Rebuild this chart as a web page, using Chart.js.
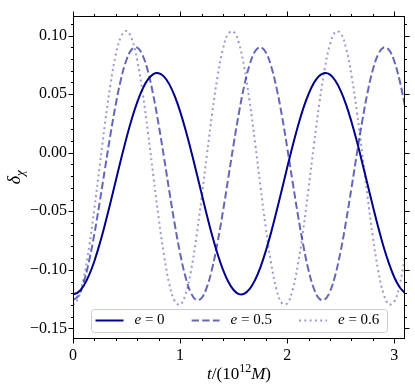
<!DOCTYPE html>
<html>
<head>
<meta charset="utf-8">
<script src="https://cdn.jsdelivr.net/npm/chart.js@4.4.1/dist/chart.umd.min.js"></script>
<style>
html, body { margin: 0; padding: 0; background: #fff; }
</style>
</head>
<body>
<canvas id="chart" width="415" height="390"></canvas>
<script>
// time samples t/(10^12 M)
const t = [0, 0.05, 0.1, 0.15, 0.2, 0.25, 0.3, 0.35, 0.4, 0.45,
  0.5, 0.55, 0.6, 0.65, 0.7, 0.75, 0.8, 0.85, 0.9, 0.95,
  1, 1.05, 1.1, 1.15, 1.2, 1.25, 1.3, 1.35, 1.4, 1.45,
  1.5, 1.55, 1.6, 1.65, 1.7, 1.75, 1.8, 1.85, 1.9, 1.95,
  2, 2.05, 2.1, 2.15, 2.2, 2.25, 2.3, 2.35, 2.4, 2.45,
  2.5, 2.55, 2.6, 2.65, 2.7, 2.75, 2.8, 2.85, 2.9, 2.95,
  3, 3.05, 3.1];

// delta chi, e = 0
const e0 = [-0.1210, -0.1190, -0.1135, -0.1045, -0.0924, -0.0775, -0.0607, -0.0426, -0.0238, -0.0050,
  0.0128, 0.0292, 0.0431, 0.0545, 0.0625, 0.0671, 0.0678, 0.0649, 0.0583, 0.0482,
  0.0353, 0.0198, 0.0025, -0.0159, -0.0347, -0.0533, -0.0708, -0.0865, -0.0998, -0.1102,
  -0.1172, -0.1207, -0.1203, -0.1163, -0.1086, -0.0978, -0.0840, -0.0680, -0.0502, -0.0316,
  -0.0127, 0.0055, 0.0225, 0.0378, 0.0501, 0.0596, 0.0656, 0.0680, 0.0666, 0.0614,
  0.0528, 0.0410, 0.0264, 0.0099, -0.0083, -0.0269, -0.0456, -0.0636, -0.0802, -0.0944,
  -0.1063, -0.1148, -0.1197];

// e = 0.5
const e05 = [-0.1260, -0.1221, -0.1107, -0.0925, -0.0690, -0.0418, -0.0129, 0.0157, 0.0416, 0.0635,
  0.0793, 0.0883, 0.0896, 0.0831, 0.0693, 0.0489, 0.0238, -0.0042, -0.0333, -0.0611,
  -0.0858, -0.1059, -0.1194, -0.1256, -0.1241, -0.1148, -0.0986, -0.0765, -0.0502, -0.0216,
  0.0073, 0.0343, 0.0576, 0.0753, 0.0865, 0.0900, 0.0857, 0.0738, 0.0555, 0.0319,
  0.0044, -0.0246, -0.0530, -0.0789, -0.1006, -0.1161, -0.1246, -0.1254, -0.1184, -0.1041,
  -0.0837, -0.0584, -0.0303, -0.0013, 0.0265, 0.0512, 0.0708, 0.0840, 0.0898, 0.0878,
  0.0780, 0.0616, 0.0394];

// e = 0.6
const e06 = [-0.1300, -0.1241, -0.1071, -0.0807, -0.0474, -0.0108, 0.0257, 0.0583, 0.0837, 0.0994,
  0.1039, 0.0968, 0.0787, 0.0511, 0.0172, -0.0197, -0.0558, -0.0876, -0.1122, -0.1266,
  -0.1297, -0.1210, -0.1016, -0.0733, -0.0389, -0.0019, 0.0339, 0.0651, 0.0884, 0.1016,
  0.1032, 0.0932, 0.0724, 0.0433, 0.0086, -0.0286, -0.0639, -0.0944, -0.1166, -0.1284,
  -0.1286, -0.1173, -0.0955, -0.0655, -0.0301, 0.0070, 0.0420, 0.0715, 0.0926, 0.1031,
  0.1019, 0.0892, 0.0663, 0.0355, -0.0003, -0.0374, -0.0719, -0.1007, -0.1204, -0.1295,
  -0.1270, -0.1130, -0.0889];

const eValues = ['0', '0.5', '0.6'];
const xTicks = [0, 1, 2, 3];
const yTicks = [-0.15, -0.10, -0.05, 0, 0.05, 0.10];

const serif = '"Liberation Serif", "DejaVu Serif", serif';

function pts(ys) {
  return t.map((x, i) => ({ x: x, y: ys[i] }));
}

// spines, outward ticks on all four sides, axis titles, legend box
const frame = {
  id: 'frame',
  afterDraw(chart) {
    const ctx = chart.ctx;
    const a = chart.chartArea;
    const xs = chart.scales.x, ys = chart.scales.y;
    const L = Math.round(a.left) + 0.5, R = Math.round(a.right) - 0.5;
    const T = Math.round(a.top) + 0.5, B = Math.round(a.bottom) - 0.5;
    ctx.save();
    ctx.strokeStyle = '#000';
    ctx.lineWidth = 1;
    ctx.strokeRect(L, T, R - L, B - T);

    function xTick(v, len) {
      const px = Math.round(xs.getPixelForValue(v)) + 0.5;
      ctx.beginPath();
      ctx.moveTo(px, B); ctx.lineTo(px, B + len);
      ctx.moveTo(px, T); ctx.lineTo(px, T - len);
      ctx.stroke();
    }
    function yTick(v, len) {
      const py = Math.round(ys.getPixelForValue(v)) + 0.5;
      ctx.beginPath();
      ctx.moveTo(L, py); ctx.lineTo(L - len, py);
      ctx.moveTo(R, py); ctx.lineTo(R + len, py);
      ctx.stroke();
    }
    xTicks.forEach(v => xTick(v, 5));
    for (let i = 1; i * 0.2 <= xs.max + 1e-9; i++) {
      if (i % 5 !== 0) xTick(i * 0.2, 2.5);
    }
    yTicks.forEach(v => yTick(v, 5));
    for (let i = -15; i <= 11; i++) {
      if (i % 5 !== 0) yTick(i * 0.01, 2.5);
    }

    // x title: t/(10^12 M)
    ctx.fillStyle = '#000';
    ctx.textBaseline = 'alphabetic';
    const parts = [
      { s: 't', f: 'italic 17px ' + serif, dy: 0 },
      { s: '/(10', f: '17px ' + serif, dy: 0 },
      { s: '12', f: '12px ' + serif, dy: -7 },
      { s: 'M', f: 'italic 17px ' + serif, dy: 0 },
      { s: ')', f: '17px ' + serif, dy: 0 }
    ];
    let w = 0;
    parts.forEach(p => { ctx.font = p.f; p.w = ctx.measureText(p.s).width; w += p.w; });
    let x0 = (a.left + a.right) / 2 - w / 2;
    const by = 379;
    parts.forEach(p => { ctx.font = p.f; ctx.fillText(p.s, x0, by + p.dy); x0 += p.w; });

    // y title: delta_chi
    ctx.save();
    ctx.translate(20, (a.top + a.bottom) / 2);
    ctx.rotate(-Math.PI / 2);
    ctx.font = 'italic 18px ' + serif;
    const dw = ctx.measureText('δ').width;
    ctx.font = 'italic 13px ' + serif;
    const cw = ctx.measureText('χ').width;
    let yx = -(dw + cw) / 2;
    ctx.font = 'italic 18px ' + serif;
    ctx.fillText('δ', yx, 0);
    ctx.font = 'italic 13px ' + serif;
    ctx.fillText('χ', yx + dw, 4);
    ctx.restore();

    // legend
    const bx = a.left + 18, bw = a.right - a.left - 36;
    const bh = 23, byTop = a.bottom - 7 - bh;
    ctx.beginPath();
    ctx.roundRect(bx + 0.5, byTop + 0.5, bw, bh, 3);
    ctx.fillStyle = 'rgba(255,255,255,0.8)';
    ctx.fill();
    ctx.strokeStyle = '#cccccc';
    ctx.stroke();
    const cy = byTop + bh / 2;
    let lx = bx + 4.5;
    chart.data.datasets.forEach((ds, i) => {
      ctx.strokeStyle = ds.borderColor;
      ctx.lineWidth = ds.borderWidth;
      ctx.setLineDash(ds.borderDash || []);
      ctx.beginPath();
      ctx.moveTo(lx, cy); ctx.lineTo(lx + 28, cy);
      ctx.stroke();
      ctx.setLineDash([]);
      let tx = lx + 39;
      ctx.fillStyle = '#000';
      ctx.textBaseline = 'middle';
      ctx.font = 'italic 15px ' + serif;
      ctx.fillText('e', tx, cy);
      tx += ctx.measureText('e').width;
      ctx.font = '15px ' + serif;
      const rest = ' = ' + eValues[i];
      ctx.fillText(rest, tx, cy);
      tx += ctx.measureText(rest).width;
      lx = tx + 27;
    });
    ctx.restore();
  }
};

new Chart(document.getElementById('chart'), {
  type: 'line',
  data: {
    datasets: [
      { label: 'e = ' + eValues[0], data: pts(e0), borderColor: '#00008b', borderWidth: 2,
        pointRadius: 0, tension: 0.4, fill: false },
      { label: 'e = ' + eValues[1], data: pts(e05), borderColor: 'rgba(0,0,139,0.6)', borderWidth: 2,
        borderDash: [7.4, 3.2], pointRadius: 0, tension: 0.4, fill: false },
      { label: 'e = ' + eValues[2], data: pts(e06), borderColor: 'rgba(0,0,139,0.4)', borderWidth: 2,
        borderDash: [2, 3.3], pointRadius: 0, tension: 0.4, fill: false }
    ]
  },
  options: {
    responsive: false,
    animation: false,
    layout: { padding: { left: 0, top: 10, right: 10, bottom: 0 } },
    plugins: { legend: { display: false }, tooltip: { enabled: false } },
    scales: {
      x: {
        type: 'linear', min: 0, max: 3.1,
        afterBuildTicks: s => { s.ticks = xTicks.map(v => ({ value: v })); },
        afterFit: s => { s.height = 51; },
        grid: { display: false, drawTicks: false },
        border: { display: false },
        ticks: { color: '#000', font: { family: serif, size: 16 }, padding: 7,
          maxRotation: 0, autoSkip: false, callback: v => String(v) }
      },
      y: {
        type: 'linear', min: -0.159, max: 0.117,
        afterBuildTicks: s => { s.ticks = yTicks.map(v => ({ value: v })); },
        afterFit: s => { s.width = 73; },
        grid: { display: false, drawTicks: false },
        border: { display: false },
        ticks: { color: '#000', font: { family: serif, size: 16 }, padding: 6,
          autoSkip: false, callback: v => (v < -1e-9 ? '\u2212' : '') + Math.abs(v).toFixed(2) }
      }
    }
  },
  plugins: [frame]
});
</script>
</body>
</html>
